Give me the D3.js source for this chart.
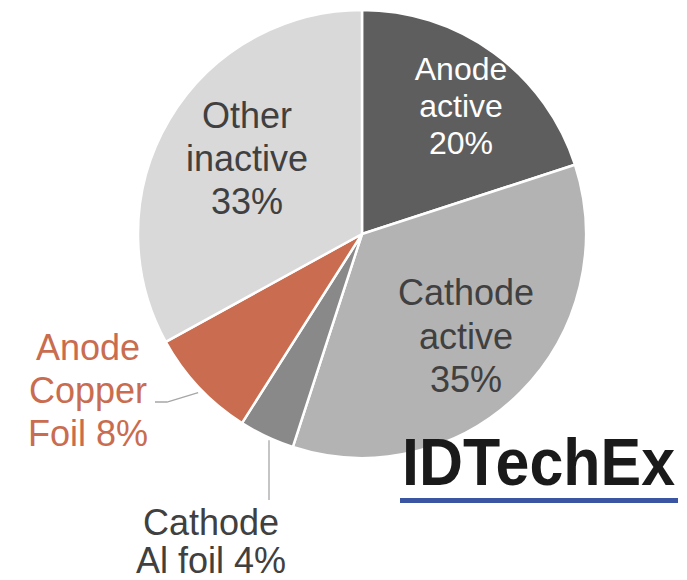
<!DOCTYPE html>
<html>
<head>
<meta charset="utf-8">
<script src="https://cdn.jsdelivr.net/npm/d3@7"></script>
<style>
  html, body { margin: 0; padding: 0; background: #fff; }
  svg { display: block; font-family: "Liberation Sans", Arial, sans-serif; }
</style>
</head>
<body>
<svg id="chart" width="687" height="580"></svg>
<script>
// Share of cell cost by component (%), clockwise from 12 o'clock
const categories = ["Anode active", "Cathode active", "Cathode Al foil", "Anode Copper Foil", "Other inactive"];
const shares = [20, 35, 4, 8, 33];
const colors = ["#5e5e5e", "#b3b3b3", "#898989", "#c96c4f", "#d9d9d9"];

// Label lines per slice (value is added to the text)
const labelLines = [
  ["Anode", "active"],
  ["Cathode", "active"],
  ["Cathode", "Al foil"],
  ["Anode", "Copper", "Foil"],
  ["Other", "inactive"]
];
// Slices whose value sits on the last name line rather than its own line
const inlineValue = ["Cathode Al foil", "Anode Copper Foil"];

const svg = d3.select("#chart");
const cx = 362, cy = 234, R = 224;

const pie = d3.pie().sort(null).value(d => d.value);
const arcs = pie(categories.map((c, i) => ({ name: c, value: shares[i], color: colors[i], lines: labelLines[i] })));
const arc = d3.arc().innerRadius(0).outerRadius(R);

const g = svg.append("g").attr("transform", `translate(${cx},${cy})`);

g.selectAll("path.slice")
  .data(arcs)
  .join("path")
  .attr("class", "slice")
  .attr("d", arc)
  .attr("fill", d => d.data.color)
  .attr("stroke", "#ffffff")
  .attr("stroke-width", 2.5)
  .attr("stroke-linejoin", "round");

function linesFor(d) {
  const l = d.data.lines.slice();
  if (inlineValue.includes(d.data.name)) {
    l[l.length - 1] = l[l.length - 1] + " " + d.value + "%";
  } else {
    l.push(d.value + "%");
  }
  return l;
}

// Label placement: centre x, first baseline, line step, size, colour
const labelPos = {
  "Anode active":      { x: 461, y: 80,  step: 37, size: 32, color: "#ffffff" },
  "Cathode active":    { x: 466, y: 305, step: 43.5, size: 36, color: "#404040" },
  "Other inactive":    { x: 247, y: 128, step: 43, size: 36, color: "#404040" },
  "Anode Copper Foil": { x: 88,  y: 360, step: 43, size: 36, color: "#c96c4f" },
  "Cathode Al foil":   { x: 211, y: 535, step: 38, size: 36, color: "#404040" }
};

arcs.forEach(d => {
  const p = labelPos[d.data.name];
  const t = svg.append("text")
    .attr("text-anchor", "middle")
    .attr("fill", p.color)
    .attr("font-size", p.size);
  linesFor(d).forEach((s, i) => {
    t.append("tspan").attr("x", p.x).attr("y", p.y + i * p.step).text(s);
  });
});

// Leader lines for the two small outside-labelled slices
const leader = d3.line();
function edgePoint(d, frac, r) {
  const a = d.startAngle + (d.endAngle - d.startAngle) * frac;
  return [cx + Math.sin(a) * r, cy - Math.cos(a) * r];
}
const copper = arcs.find(d => d.data.name === "Anode Copper Foil");
const alFoil = arcs.find(d => d.data.name === "Cathode Al foil");
const cp = edgePoint(copper, 0.47, R + 4);
svg.append("path")
  .attr("d", leader([[155, 402], [167, 402], cp]))
  .attr("fill", "none").attr("stroke", "#a6a6a6").attr("stroke-width", 1.3);
const ap = edgePoint(alFoil, 0.5, R + 4);
svg.append("path")
  .attr("d", leader([[269, ap[1]], [269, 500]]))
  .attr("fill", "none").attr("stroke", "#a6a6a6").attr("stroke-width", 1.3);

// Brand mark
svg.append("text")
  .attr("x", 402).attr("y", 485)
  .attr("font-size", 66)
  .attr("font-weight", "bold")
  .attr("fill", "#1a1a1a")
  .attr("textLength", 273)
  .attr("lengthAdjust", "spacingAndGlyphs")
  .text("IDTechEx");
svg.append("rect")
  .attr("x", 400).attr("y", 498)
  .attr("width", 278).attr("height", 5)
  .attr("fill", "#3b55a3");
</script>
</body>
</html>
